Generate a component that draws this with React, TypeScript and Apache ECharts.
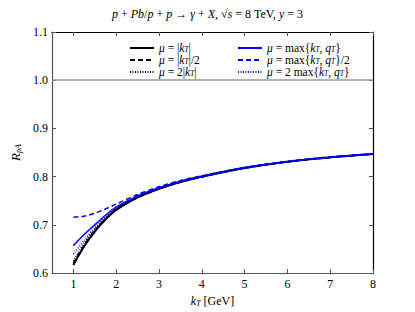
import React, { useEffect, useRef } from "react";
import * as echarts from "echarts";

const kT = [1, 1.25, 1.5, 1.75, 2, 2.5, 3, 3.5, 4, 5, 6, 7, 8];
const blackSolid = [0.617, 0.655, 0.686, 0.711, 0.731, 0.757, 0.775, 0.789, 0.8, 0.818, 0.831, 0.84, 0.847];
const blackDashed = [0.62, 0.657, 0.688, 0.712, 0.732, 0.757, 0.775, 0.789, 0.8, 0.818, 0.831, 0.84, 0.847];
const blackDotted = [0.625, 0.662, 0.691, 0.714, 0.733, 0.758, 0.776, 0.789, 0.8, 0.818, 0.831, 0.84, 0.847];
const blueSolid = [0.657, 0.68, 0.7, 0.72, 0.737, 0.76, 0.777, 0.79, 0.801, 0.819, 0.831, 0.84, 0.847];
const blueDashed = [0.716, 0.718, 0.724, 0.733, 0.743, 0.763, 0.779, 0.792, 0.802, 0.819, 0.832, 0.841, 0.847];
const blueDotted = [0.639, 0.668, 0.694, 0.716, 0.735, 0.759, 0.776, 0.79, 0.8, 0.818, 0.831, 0.84, 0.847];
const xTicks = [1, 2, 3, 4, 5, 6, 7, 8];

const names = [
  "μ = |kT|",
  "μ = |kT|/2",
  "μ = 2|kT|",
  "μ = max{kT, qT}",
  "μ = max{kT, qT}/2",
  "μ = 2 max{kT, qT}",
];
const labelsRich: Record<string, string> = {
  "μ = |kT|": "{i|μ} = |{i|k}{s|T}|",
  "μ = |kT|/2": "{i|μ} = |{i|k}{s|T}|/2",
  "μ = 2|kT|": "{i|μ} = 2|{i|k}{s|T}|",
  "μ = max{kT, qT}": "{i|μ} = max{{i|k}{s|T}, {i|q}{s|T}}",
  "μ = max{kT, qT}/2": "{i|μ} = max{{i|k}{s|T}, {i|q}{s|T}}/2",
  "μ = 2 max{kT, qT}": "{i|μ} = 2 max{{i|k}{s|T}, {i|q}{s|T}}",
};

const FONT = "Liberation Serif";
const rich = {
  i: { fontFamily: FONT, fontStyle: "italic", fontSize: 12, color: "#000" },
  s: { fontFamily: FONT, fontStyle: "italic", fontSize: 8, color: "#000", verticalAlign: "bottom", padding: [3, 0, 0, 0] },
};
const legendRich = {
  i: { fontFamily: FONT, fontStyle: "italic", fontSize: 11.5, color: "#000", lineHeight: 10.5 },
  s: { fontFamily: FONT, fontStyle: "italic", fontSize: 7.5, color: "#000", verticalAlign: "bottom", lineHeight: 8, padding: [2, 0, 0, 0] },
};

export default function App() {
  const ref = useRef<HTMLDivElement>(null);
  useEffect(() => {
    document.body.style.margin = "0";
    if (!ref.current) return;
    const chart = echarts.init(ref.current, null, { renderer: "svg" });
    const mk = (name: string, data: number[], color: string, type: any, width: number) => ({
      name,
      type: "line",
      data: kT.map((x, i) => [x, data[i]]),
      smooth: 0.3,
      symbol: "none",
      lineStyle: { color, type, width },
      itemStyle: { color },
      z: 3,
    });
    const series: any[] = [
      mk(names[0], blackSolid, "#000", "solid", 2),
      mk(names[1], blackDashed, "#000", [5, 3], 2),
      mk(names[2], blackDotted, "#000", [1, 1.5], 1.5),
      mk(names[3], blueSolid, "#0000ff", "solid", 1.5),
      mk(names[4], blueDashed, "#0000ff", [5, 3], 1.5),
      mk(names[5], blueDotted, "#0000ff", [1, 1.5], 1.5),
    ];
    series[0].markLine = {
      silent: true,
      symbol: "none",
      label: { show: false },
      lineStyle: { color: "#999", type: "solid", width: 1.5 },
      data: [{ yAxis: 1.0 }],
    };
    const legendCommon = {
      orient: "vertical",
      itemWidth: 24,
      itemHeight: 8,
      itemGap: 0,
      padding: 0,
      itemStyle: { color: "rgba(0,0,0,0)", borderColor: "rgba(0,0,0,0)", borderWidth: 0 },
      formatter: (n: string) => labelsRich[n],
      textStyle: { fontFamily: FONT, fontSize: 11.5, color: "#000", lineHeight: 10.5, rich: legendRich },
    };
    const axisCommonX = {
      type: "value",
      min: 0.5,
      max: 8,
      splitLine: { show: false },
    };
    chart.setOption({
      animation: false,
      title: {
        text: "{i|p} + {i|Pb}/{i|p} + {i|p} → {i|γ} + {i|X}, √{i|s} = 8 TeV, {i|y} = 3",
        left: "center",
        top: 3,
        textStyle: { fontFamily: FONT, fontSize: 12, fontWeight: "normal", color: "#000", rich },
      },
      legend: [
        { ...legendCommon, left: 129, top: 42, data: names.slice(0, 3) },
        { ...legendCommon, left: 237, top: 42, data: names.slice(3, 6) },
      ],
      grid: { left: 52, right: 42, top: 32, bottom: 32 },
      xAxis: [
        {
          ...axisCommonX,
          position: "bottom",
          name: "{i|k}{s|T} [GeV]",
          nameLocation: "middle",
          nameGap: 14,
          nameTextStyle: { fontFamily: FONT, fontSize: 12, color: "#000", rich },
          axisLine: { lineStyle: { color: "#555", width: 1.2 } },
          axisTick: { inside: true, length: 4, customValues: xTicks, lineStyle: { color: "#555" } },
          axisLabel: { customValues: xTicks, fontFamily: FONT, fontSize: 12, color: "#000", margin: 5 },
        },
        {
          ...axisCommonX,
          position: "top",
          axisLine: { lineStyle: { color: "#000", width: 1.2 } },
          axisTick: { inside: true, length: 4, customValues: xTicks, lineStyle: { color: "#555" } },
          axisLabel: { show: false },
        },
      ],
      yAxis: [
        {
          type: "value",
          min: 0.6,
          max: 1.1,
          interval: 0.1,
          position: "left",
          splitLine: { show: false },
          name: "{i|R}{s|pA}",
          nameLocation: "middle",
          nameGap: 20,
          nameRotate: 90,
          nameTextStyle: { fontFamily: FONT, fontSize: 13, color: "#000", rich: { ...rich, i: { ...rich.i, fontSize: 13 } } },
          axisLine: { show: true, lineStyle: { color: "#555", width: 1.2 } },
          axisTick: { inside: true, length: 4, lineStyle: { color: "#555" } },
          axisLabel: { fontFamily: FONT, fontSize: 12, color: "#000", margin: 4, formatter: (v: number) => v.toFixed(1) },
        },
        {
          type: "value",
          min: 0.6,
          max: 1.1,
          interval: 0.1,
          position: "right",
          splitLine: { show: false },
          axisLine: { show: true, lineStyle: { color: "#000", width: 1.2 } },
          axisTick: { inside: true, length: 4, lineStyle: { color: "#555" } },
          axisLabel: { show: false },
        },
      ],
      series,
    });
    return () => chart.dispose();
  }, []);
  return <div ref={ref} style={{ width: 415, height: 312 }} />;
}
